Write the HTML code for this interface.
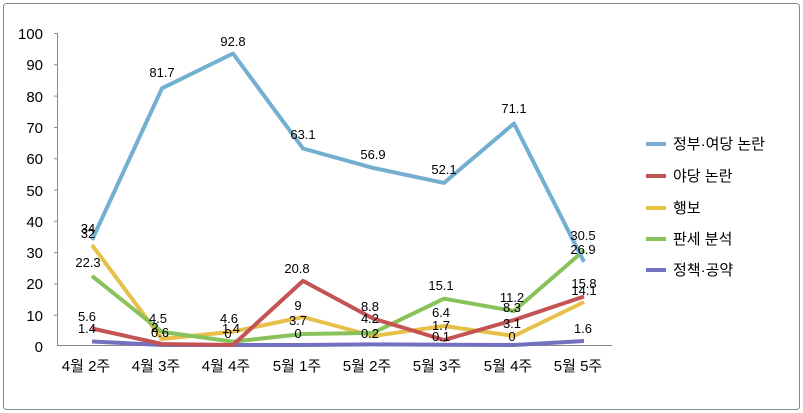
<!DOCTYPE html>
<html><head><meta charset="utf-8"><style>
body{margin:0;background:#fff}
svg{display:block}
text{font-family:"Liberation Sans","Noto Sans CJK KR",sans-serif;fill:#000}
</style></head><body>
<svg width="803" height="413" viewBox="0 0 803 413">
<rect x="3.5" y="3.5" width="796" height="406" rx="3" fill="#fff" stroke="#888" stroke-width="1"/>
<g stroke="#888" stroke-width="1">
<line x1="57.5" y1="33" x2="57.5" y2="346"/>
<line x1="57" y1="345.5" x2="612" y2="345.5"/>
<line x1="54" y1="33.5" x2="57" y2="33.5"/><line x1="54" y1="64.8" x2="57" y2="64.8"/>
<line x1="54" y1="96.1" x2="57" y2="96.1"/><line x1="54" y1="127.4" x2="57" y2="127.4"/>
<line x1="54" y1="158.7" x2="57" y2="158.7"/><line x1="54" y1="190" x2="57" y2="190"/>
<line x1="54" y1="221.3" x2="57" y2="221.3"/><line x1="54" y1="252.6" x2="57" y2="252.6"/>
<line x1="54" y1="283.9" x2="57" y2="283.9"/><line x1="54" y1="315.2" x2="57" y2="315.2"/>
</g>
<g font-size="15" text-anchor="end">
<text x="43" y="39">100</text><text x="43" y="70">90</text><text x="43" y="102">80</text>
<text x="43" y="133">70</text><text x="43" y="164">60</text><text x="43" y="196">50</text>
<text x="43" y="227">40</text><text x="43" y="258">30</text><text x="43" y="289">20</text>
<text x="43" y="321">10</text><text x="43" y="352">0</text>
</g>
<g font-size="15" text-anchor="middle">
<text x="86" y="371">4월 2주</text><text x="156" y="371">4월 3주</text><text x="226" y="371">4월 4주</text>
<text x="297" y="371">5월 1주</text><text x="367" y="371">5월 2주</text><text x="437" y="371">5월 3주</text>
<text x="508" y="371">5월 4주</text><text x="578" y="371">5월 5주</text>
</g>
<g fill="none" stroke-width="4" stroke-linejoin="round">
<polyline stroke="#7470c0" points="92,341.5 162,345 233,345 303,345 373,344.4 444,344.7 514,345 584,341"/>
<polyline stroke="#e7c04a" points="92,245 162,339 233,331.6 303,317 373,336 444,326 514,336 584,302"/>
<polyline stroke="#89c15b" points="92,276 162,331.9 233,341.6 303,334 373,332.9 444,298.7 514,311 584,250.5"/>
<polyline stroke="#c45454" points="92,328.5 162,344 233,345 303,280.9 373,318.5 444,340 514,320 584,296.5"/>
<polyline stroke="#72afd0" points="92,240 162,88.3 233,53.5 303,148.5 373,167.9 444,182.9 514,123.5 584,261.8"/>
</g>
<g font-size="13" text-anchor="middle">
<text x="88" y="233">34</text><text x="162" y="77">81.7</text><text x="233" y="46">92.8</text>
<text x="303" y="139">63.1</text><text x="373" y="159">56.9</text><text x="444" y="174">52.1</text>
<text x="514" y="113">71.1</text>
<text x="88" y="238">32</text><text x="88" y="267">22.3</text><text x="87" y="321">5.6</text><text x="87" y="333">1.4</text>
<text x="158" y="323">4.5</text><text x="155" y="332">2</text><text x="160" y="337">0.6</text>
<text x="229" y="323">4.6</text><text x="231" y="333">1.4</text><text x="228" y="338">0</text>
<text x="297" y="273">20.8</text><text x="298" y="310">9</text><text x="298" y="325">3.7</text><text x="298" y="338">0</text>
<text x="370" y="311">8.8</text><text x="370" y="323">4.2</text><text x="370" y="338">0.2</text>
<text x="441" y="290">15.1</text><text x="441" y="317">6.4</text><text x="441" y="330">1.7</text><text x="441" y="341">0.1</text>
<text x="512" y="302">11.2</text><text x="512" y="312">8.3</text><text x="512" y="328">3.1</text><text x="512" y="341">0</text>
<text x="583" y="240">30.5</text><text x="583" y="254">26.9</text><text x="584" y="288">15.8</text><text x="584" y="295">14.1</text>
<text x="583" y="333">1.6</text>
</g>
<g stroke-width="4">
<line x1="646" y1="144" x2="666" y2="144" stroke="#72afd0"/>
<line x1="646" y1="176" x2="666" y2="176" stroke="#c45454"/>
<line x1="646" y1="208" x2="666" y2="208" stroke="#e7c04a"/>
<line x1="646" y1="239" x2="666" y2="239" stroke="#89c15b"/>
<line x1="646" y1="270" x2="666" y2="270" stroke="#7470c0"/>
</g>
<g font-size="15">
<text x="673" y="149">정부·여당 논란</text>
<text x="673" y="181">야당 논란</text>
<text x="673" y="213">행보</text>
<text x="673" y="244">판세 분석</text>
<text x="673" y="275">정책·공약</text>
</g>
</svg>
</body></html>
